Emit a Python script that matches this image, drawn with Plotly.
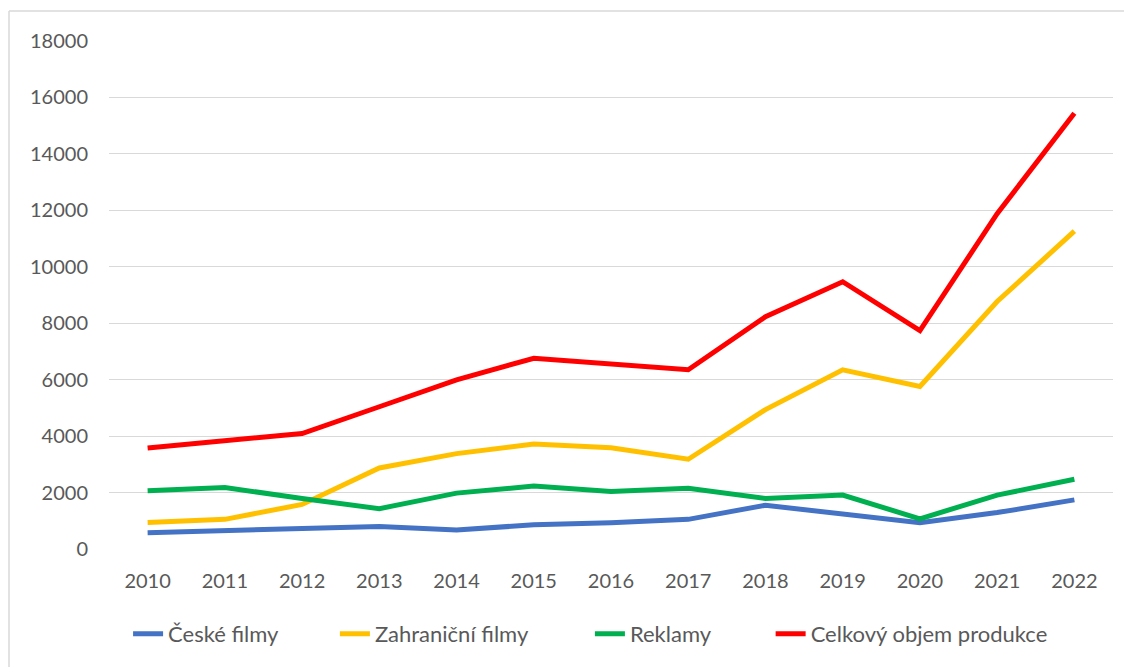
import plotly.graph_objects as go

# roky a hodnoty jednotlivých řad
roky = [2010, 2011, 2012, 2013, 2014, 2015, 2016, 2017, 2018, 2019, 2020, 2021, 2022]
ceske_filmy = [580, 640, 740, 800, 670, 860, 930, 1050, 1550, 1260, 930, 1290, 1740]
zahranicni_filmy = [940, 1050, 1580, 2870, 3380, 3720, 3590, 3180, 4940, 6350, 5760, 8770, 11260]
reklamy = [2060, 2180, 1790, 1430, 1980, 2230, 2040, 2150, 1790, 1910, 1070, 1910, 2470]
celkem = [3580, 3850, 4090, 5040, 5990, 6760, 6560, 6350, 8230, 9470, 7740, 11880, 15440]

y_ticks = [0, 2000, 4000, 6000, 8000, 10000, 12000, 14000, 16000, 18000]

serie = [
    ("České filmy", ceske_filmy, "#4472C4"),
    ("Zahraniční filmy", zahranicni_filmy, "#FFC000"),
    ("Reklamy", reklamy, "#00B050"),
    ("Celkový objem produkce", celkem, "#FF0000"),
]

# každá řada má vlastní legendu, aby šly rozmístit jako v Excelu
legendy = ["legend", "legend2", "legend3", "legend4"]
legenda_x = [0.019, 0.225, 0.479, 0.659]

fig = go.Figure()

for (nazev, hodnoty, barva), leg in zip(serie, legendy):
    fig.add_trace(go.Scatter(
        x=roky, y=hodnoty, name=nazev, mode="lines",
        line=dict(color=barva, width=5),
        legend=leg,
    ))

leg_styl = dict(
    orientation="h",
    xanchor="left",
    y=-0.167, yanchor="middle",
    font=dict(family="Lato", size=22, color="#595959"),
    bgcolor="rgba(0,0,0,0)",
)

fig.update_layout(
    width=1132,
    height=667,
    autosize=False,
    margin=dict(l=101, r=27, t=33, b=126),
    paper_bgcolor="white",
    plot_bgcolor="white",
    font=dict(family="Lato", size=20, color="#595959"),
    showlegend=True,
    legend=dict(leg_styl, x=legenda_x[0]),
    legend2=dict(leg_styl, x=legenda_x[1]),
    legend3=dict(leg_styl, x=legenda_x[2]),
    legend4=dict(leg_styl, x=legenda_x[3]),
    xaxis=dict(
        tickmode="array",
        tickvals=roky,
        ticktext=[str(r) for r in roky],
        range=[2009.5, 2022.5],
        showgrid=False,
        zeroline=False,
        showline=False,
        ticks="",
        ticklabelstandoff=18,
    ),
    yaxis=dict(
        range=[0, 18000],
        tickvals=y_ticks,
        ticktext=[str(v) for v in y_ticks],
        showgrid=True,
        gridcolor="#D9D9D9",
        gridwidth=1,
        zeroline=False,
        showline=False,
        ticks="",
        ticklabelstandoff=20,
    ),
    shapes=[
        dict(type="line", xref="paper", yref="paper",
             x0=-0.0996, x1=1.1, y0=1.059, y1=1.059,
             line=dict(color="#D9D9D9", width=1.5)),
        dict(type="line", xref="paper", yref="paper",
             x0=-0.0996, x1=-0.0996, y0=1.059, y1=-0.3,
             line=dict(color="#D9D9D9", width=1.5)),
    ],
)

fig.write_html("out.html")
